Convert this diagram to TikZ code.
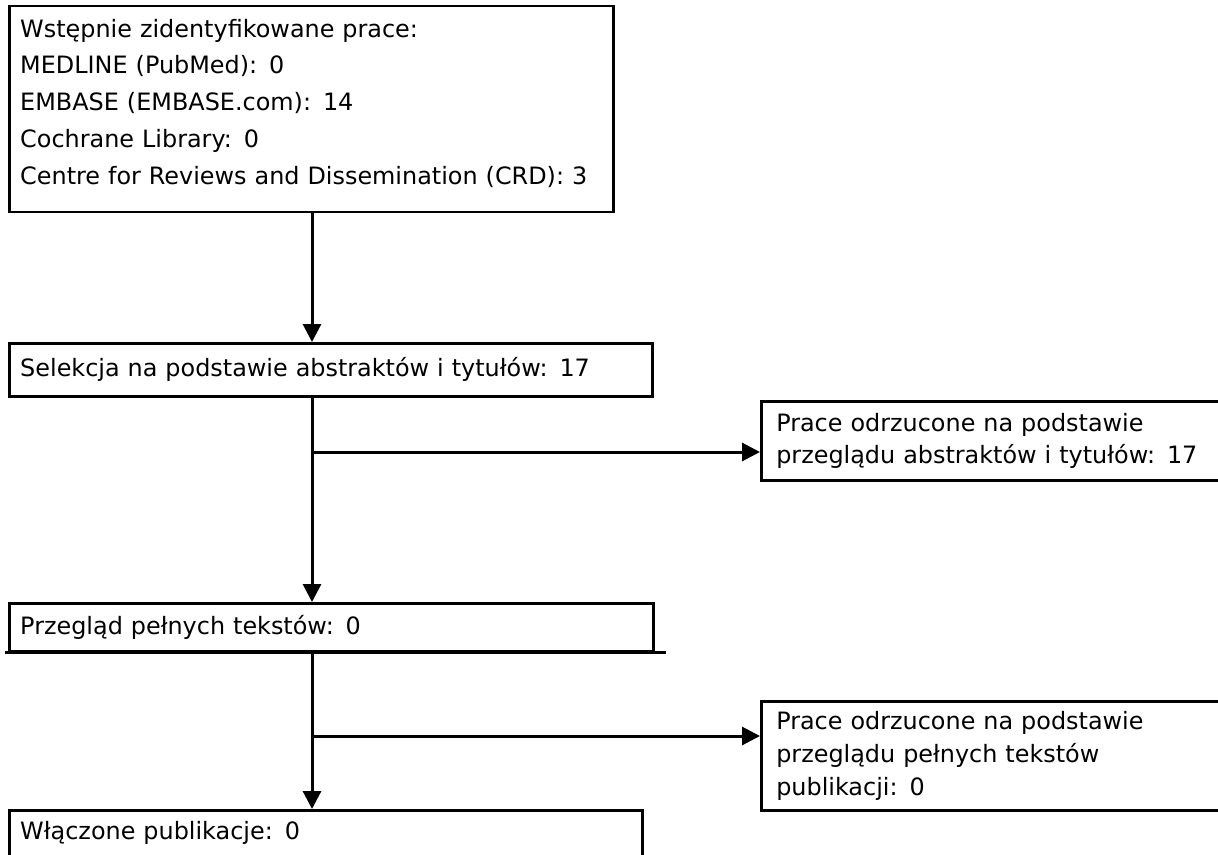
\documentclass[tikz,border=0pt]{standalone}
\usepackage{fontspec}
\setmainfont{DejaVu Sans}
\usetikzlibrary{arrows.meta}

\begin{document}
\begin{tikzpicture}[>={Triangle[length=1.8mm,width=1.8mm]}, x=0.1mm, y=-0.1mm,
  font=\fontsize{6.8}{10.5}\selectfont,
  box/.style={draw, line width=0.25mm, anchor=north west, align=left,
    inner xsep=1.1mm, inner ysep=0pt},
  sidebox/.style={box, inner xsep=1.5mm, text width=50mm,
    font=\fontsize{6.8}{9.3}\selectfont},
  flow/.style={->, line width=0.3mm}]
\clip (0,0) rectangle (1218,854);
% main column
\node[box, text width=58.2mm, minimum height=20.6mm] (ident) at (8,5)
  {Wstępnie zidentyfikowane prace:\\
   MEDLINE (PubMed): 0\\
   EMBASE (EMBASE.com): 14\\
   Cochrane Library: 0\\
   Centre for Reviews and Dissemination (CRD): 3\rule[-1.5mm]{0pt}{0pt}};
\node[box, text width=62.1mm, minimum height=5.3mm] (sel) at (8,342)
  {Selekcja na podstawie abstraktów i tytułów: 17};
\node[box, text width=62.2mm, minimum height=4.8mm] (full) at (8,602)
  {Przegląd pełnych tekstów: 0};
\draw[line width=0.25mm] ([xshift=-0.3mm]full.south west) -- ([xshift=1.1mm]full.south east);
\node[box, text width=61.1mm, minimum height=4.6mm] (incl) at (8,809)
  {Włączone publikacje: 0};
% excluded
\node[sidebox, minimum height=7.9mm] (excl1) at (760,400)
  {Prace odrzucone na podstawie\\
   przeglądu abstraktów i tytułów: 17};
\node[sidebox, minimum height=10.9mm] (excl2) at (760,700)
  {Prace odrzucone na podstawie\\
   przeglądu pełnych tekstów\\
   publikacji: 0};
% connectors
\coordinate (trunk) at (312,0);
\coordinate (br1) at (312,452);
\coordinate (br2) at (312,736);
\draw[flow] (ident.south -| trunk) -- (sel.north -| trunk);
\draw[flow] (sel.south -| trunk) -- (full.north -| trunk);
\draw[flow] (full.south -| trunk) -- (incl.north -| trunk);
\draw[flow] (br1) -- (excl1.west |- br1);
\draw[flow] (br2) -- (excl2.west |- br2);
\end{tikzpicture}
\end{document}
